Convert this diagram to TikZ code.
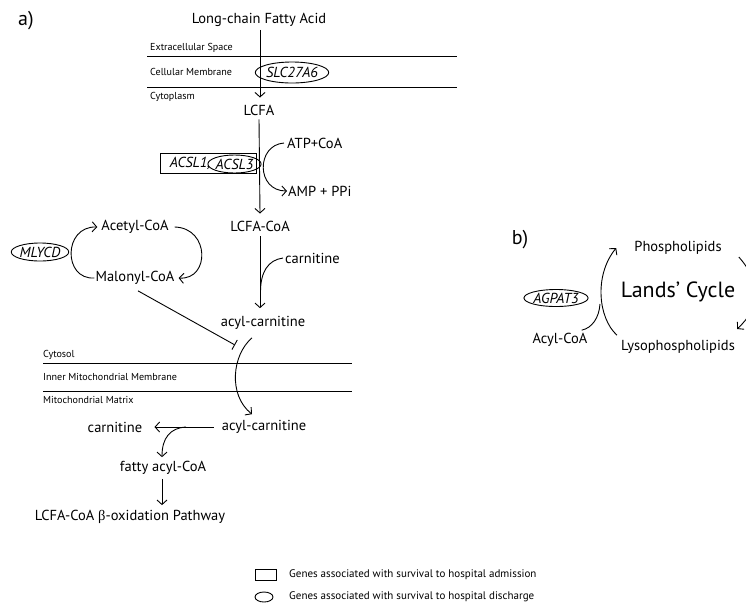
\documentclass[tikz,border=0pt]{standalone}
\usepackage{fontspec}
\setmainfont{PT Sans}
\newfontfamily\betafont{Liberation Serif}
\usetikzlibrary{arrows.meta,shapes.geometric}
\begin{document}
\begin{tikzpicture}[x=1pt,y=-1pt,
  every node/.style={inner sep=0pt, font=\fontsize{14.5}{17}\selectfont},
  sm/.style={font=\fontsize{10.1}{11}\selectfont, anchor=west},
  leg/.style={font=\fontsize{11}{12}\selectfont, anchor=west},
  big/.style={font=\fontsize{20}{24}\selectfont},
  ln/.style={line width=0.9pt},
  arr/.style={line width=0.9pt, -{Straight Barb[length=4.5pt,width=10pt,line width=0.9pt]}},
  inh/.style={line width=0.9pt, -{Bar[width=11pt,line width=0.9pt]}},
  gene/.style={ellipse, draw, line width=0.9pt, inner sep=0pt, font=\fontsize{14.5}{17}\selectfont\itshape},
  genebox/.style={rectangle, draw, line width=0.9pt, inner sep=0pt},
]
\useasboundingbox (0,0) rectangle (746,606);

% ---------------- panel a ----------------
\node[big] (la) at (26,21) {a)};
\node (fa) at (259,20) {Long-chain Fatty Acid};

\draw[ln] (147,56.5) -- (457,56.5);
\draw[ln] (147,87) -- (457,87);
\node[sm] (ext) at (150,48) {Extracellular Space};
\node[sm] (cmem) at (150,72) {Cellular Membrane};
\node[sm] (cyto) at (150,96.5) {Cytoplasm};
\node[gene, minimum width=61pt, minimum height=21pt] (slc) at (292,72.5) {SLC27A6};

\node (lcfa) at (259,110) {LCFA};
\draw[arr] ([xshift=1pt,yshift=-3pt]fa.south) -- ([xshift=1pt,yshift=7pt]lcfa.north);

\node[anchor=west] (atp) at (287,143) {ATP+CoA};
\node[anchor=west] (amp) at (288,191) {AMP + PPi};
\node[genebox, minimum width=96pt, minimum height=20pt] (box) at (208,163) {};
\node[font=\fontsize{14.5}{17}\selectfont\itshape] (acsl1) at (190,163.5) {ACSL1,};
\node[gene, minimum width=43pt, minimum height=18pt] (acsl3) at (234.5,164) {ACSL3};

\node (lcfacoa) at (260,226) {LCFA-CoA};
\draw[arr] ([yshift=-4pt]lcfa.south) -- ([yshift=7pt]lcfacoa.north);
\draw[arr] ([xshift=-3pt]atp.west) .. controls (256,145) and (256,191) .. ([xshift=-1pt]amp.west);

\node[anchor=west] (carn1) at (285,258) {carnitine};
\node (ac1) at (263,323) {acyl-carnitine};
\draw[arr] ([yshift=-5pt]lcfacoa.south) -- ([xshift=-3pt,yshift=8pt]ac1.north);
\coordinate (j1) at (260.5,292);
\draw[ln] ([xshift=-2pt]carn1.west) .. controls (268,260) and (260.5,272) .. (j1);

\node (acetyl) at (135,227) {Acetyl-CoA};
\node (malonyl) at (135,278) {Malonyl-CoA};
\node[gene, minimum width=56pt, minimum height=18pt] (mlycd) at (40,252) {MLYCD};
\draw[arr] ([xshift=-1pt]malonyl.west) .. controls (63,280) and (63,226) .. ([xshift=-4pt]acetyl.west);
\draw[arr] ([xshift=6pt]acetyl.east) .. controls (210,228) and (210,280) .. ([xshift=4pt]malonyl.east);
\coordinate (inhend) at (235,345);
\draw[inh] ([xshift=3pt,yshift=-6pt]malonyl.south) -- (inhend);

\draw[ln] (43,363) -- (352,363);
\draw[ln] (43,391) -- (352,391);
\node[sm] (cytosol) at (43,355) {Cytosol};
\node[sm] (imm) at (43,377) {Inner Mitochondrial Membrane};
\node[sm] (mm) at (43,400) {Mitochondrial Matrix};

\node (ac2) at (264,427) {acyl-carnitine};
\draw[arr] ([xshift=-11pt,yshift=-8pt]ac1.south) .. controls (232,355) and (228,395) .. ([xshift=-12pt,yshift=6pt]ac2.north);

\node (carn2) at (115,427) {carnitine};
\draw[arr] ([xshift=-8pt]ac2.west) -- ([xshift=12pt]carn2.east);
\node (fatty) at (163,468) {fatty acyl-CoA};
\coordinate (j2) at (186,427);
\draw[arr] (j2) .. controls (170,428) and (162,438) .. ([xshift=-1pt,yshift=4pt]fatty.north);
\node (beta) at (130,517) {LCFA-CoA {\betafont β}-oxidation Pathway};
\draw[arr] ([xshift=-1pt,yshift=-4pt]fatty.south) -- ([xshift=32pt,yshift=5pt]beta.north);

% legend
\node[genebox, minimum width=21pt, minimum height=11pt] (legbox) at (265.5,575) {};
\node[leg] (legt1) at (289,575) {Genes associated with survival to hospital admission};
\node[ellipse, draw, line width=0.9pt, minimum width=18pt, minimum height=10pt, inner sep=0pt] (legell) at (264,597) {};
\node[leg] (legt2) at (289,597) {Genes associated with survival to hospital discharge};

% ---------------- panel b ----------------
\node[big] (lb) at (520,240) {b)};
\node (phos) at (678,248) {Phospholipids};
\node[font=\fontsize{22}{26}\selectfont] (lands) at (678,292) {Lands’ Cycle};
\node[gene, minimum width=58pt, minimum height=17pt] (agpat) at (556,298) {AGPAT3};
\node (acylcoa) at (560,340) {Acyl-CoA};
\node (lyso) at (678,347) {Lysophospholipids};
\draw[arr] ([xshift=-4pt,yshift=5pt]lyso.north west) .. controls (598,318) and (594,275) .. ([xshift=-18pt]phos.west);
\coordinate (j3) at (600,304);
\draw[ln] ([xshift=-6pt,yshift=3pt]acylcoa.north east) .. controls (592,328) and (599,318) .. (j3);
\begin{scope}
\clip (0,0) rectangle (746,606);
\draw[arr] ([xshift=17pt,yshift=-9pt]phos.east) .. controls (762,283) and (760,308) .. ([xshift=2pt,yshift=18pt]lyso.east);
\end{scope}
\end{tikzpicture}
\end{document}
